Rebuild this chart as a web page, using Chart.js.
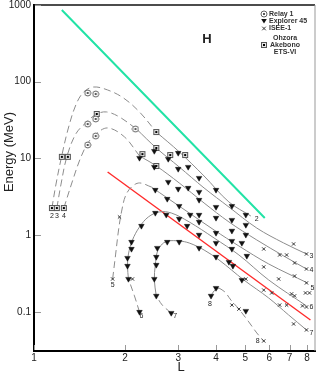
<!DOCTYPE html>
<html>
<head>
<meta charset="utf-8">
<script src="https://cdn.jsdelivr.net/npm/chart.js@4.4.1/dist/chart.umd.min.js"></script>
<style>
html, body { margin: 0; padding: 0; background: #fff; }
#wrap { width: 320px; height: 375px; }
</style>
</head>
<body>
<div id="wrap"><canvas id="chart" width="320" height="375"></canvas></div>
<script>
// ---- data (L, energy in MeV) ----
const xTicks = [1, 2, 3, 4, 5, 6, 7, 8];
const yTicks = [0.1, 1, 10, 100, 1000];

const c2DashL = [1.146, 1.181, 1.227, 1.294, 1.375, 1.460, 1.575, 1.752, 1.977, 2.233, 2.538];
const c2DashE = [2.26, 4.52, 9.56, 23.5, 49.8, 73.5, 85.4, 78.1, 61.4, 40.4, 22.1];
const c2L = [2.538, 3.022, 3.652, 4.413, 5.214];
const c2E = [22.1, 12.2, 5.91, 2.71, 1.78];

const c3DashL = [1.190, 1.227, 1.284, 1.375, 1.494, 1.612, 1.739, 1.918, 2.183];
const c3DashE = [2.26, 4.52, 10.5, 20.9, 29.9, 38.0, 40.4, 34.7, 24.2];
const c3L = [2.183, 2.538, 3.022, 3.652, 4.413, 5.456, 6.695, 7.967];
const c3E = [24.2, 13.7, 7.75, 4.13, 2.33, 1.24, 0.792, 0.570];

const c4DashL = [1.255, 1.344, 1.417, 1.494, 1.587, 1.752, 1.992, 2.233];
const c4DashE = [2.26, 5.25, 9.56, 15.0, 20.2, 25.0, 19.1, 10.8];
const c4L = [2.233, 2.538, 3.022, 3.652, 4.413, 5.456, 6.695, 7.967];
const c4E = [10.8, 7.99, 4.80, 2.63, 1.49, 0.867, 0.537, 0.363];

const c5DashL = [1.820, 1.861, 1.904, 1.947, 2.007, 2.101, 2.233, 2.444];
const c5DashE = [0.269, 0.553, 1.17, 2.01, 3.25, 4.25, 4.80, 4.25];
const c5L = [2.444, 2.759, 3.261, 3.940, 4.761, 5.975, 8.027];
const c5E = [4.25, 3.06, 1.95, 1.17, 0.724, 0.422, 0.239];

const c6DashL = [2.233, 2.149, 2.053];
const c6DashE = [0.1, 0.162, 0.269];
const c6L = [2.053, 2.038, 2.053, 2.117, 2.233, 2.389, 2.597, 2.844, 3.261, 3.940, 4.761, 5.975, 7.967];
const c6E = [0.269, 0.398, 0.570, 0.867, 1.28, 1.73, 2.01, 1.95, 1.49, 0.921, 0.553, 0.261, 0.120];

const c7DashL = [2.844, 2.656, 2.538];
const c7DashE = [0.097, 0.123, 0.162];
const c7L = [2.538, 2.500, 2.519, 2.557, 2.656, 2.780, 3.022, 3.261, 3.652, 4.092, 4.945, 5.975, 6.953, 7.967];
const c7E = [0.162, 0.261, 0.410, 0.605, 0.769, 0.841, 0.841, 0.792, 0.642, 0.476, 0.261, 0.152, 0.0914, 0.0583];

const c8L = [3.851, 3.940, 4.092];
const c8E = [0.162, 0.188, 0.205];
const c8DashL = [4.092, 4.282, 4.480, 4.761, 5.135, 5.456, 5.753];
const c8DashE = [0.205, 0.182, 0.143, 0.109, 0.0741, 0.0533, 0.0419];

const greenL = [1.236, 5.798];
const greenE = [861, 1.68];
const redL = [1.752, 8.21];
const redE = [6.67, 0.0787];

const relayL = [1.505, 1.599, 1.505, 1.599, 1.505, 1.599, 2.166];
const relayE = [71.4, 69.2, 28.1, 32.7, 15.0, 19.6, 24.2];

const akebonoL = [1.146, 1.190, 1.255, 1.236, 1.294, 1.612, 2.538, 2.283, 2.538, 2.822, 3.162, 2.538];
const akebonoE = [2.26, 2.26, 2.26, 10.5, 10.5, 38.0, 22.1, 11.4, 13.7, 11.1, 11.1, 7.99];

const explorerL = [2.233, 2.500, 2.780, 2.999, 2.500, 2.999, 2.780, 3.236, 3.516, 2.999, 3.236, 3.516, 4.000,
    2.519, 2.759, 3.022, 3.285, 3.516, 4.000, 3.516, 2.519, 2.738, 3.022, 3.210, 2.266,
    4.514, 5.020, 4.514, 5.020, 4.514, 5.020, 4.514, 4.870, 4.514, 5.058, 4.413, 4.549, 4.870,
    4.000, 4.000, 4.000, 4.000, 3.516, 3.516, 3.516, 2.759, 3.022,
    2.101, 2.101, 2.038, 2.038, 2.053, 2.557, 2.538, 2.538, 2.500, 2.538, 2.844, 3.851, 4.000, 5.020, 2.233];
const explorerE = [10.15, 12.5, 9.85, 11.8, 7.75, 7.30, 4.94, 7.75, 5.57, 4.01, 4.13, 3.66, 3.89,
    3.89, 2.97, 2.40, 1.84, 2.88, 2.33, 1.84, 1.95, 1.84, 1.63, 1.32, 1.32,
    2.40, 1.84, 1.58, 1.36, 1.14, 1.01, 0.841, 0.792, 0.662, 0.537, 0.448, 0.398, 0.261,
    1.68, 1.07, 0.792, 0.521, 1.49, 1.01, 0.682, 0.817, 0.817,
    0.817, 0.662, 0.505, 0.398, 0.269, 0.682, 0.521, 0.410, 0.269, 0.162, 0.097, 0.162, 0.205, 0.103, 0.1];

const iseeL = [7.222, 6.494, 6.848, 7.967, 5.753, 7.276, 7.967, 5.753, 6.446, 7.276, 7.967, 7.907, 8.150,
    7.112, 7.276, 5.753, 6.112, 6.494, 6.848, 7.729, 7.967, 7.222, 7.967, 4.514, 4.761, 5.753,
    5.020, 2.117, 1.820, 1.918];
const iseeE = [0.769, 0.553, 0.553, 0.570, 0.662, 0.435, 0.363, 0.386, 0.269, 0.294, 0.239, 0.177, 0.177,
    0.172, 0.162, 0.193, 0.177, 0.123, 0.123, 0.120, 0.116, 0.0698, 0.0583, 0.123, 0.109, 0.0419,
    0.269, 0.269, 0.269, 1.73];

const curveLabelText = ['2', '3', '4', '5', '6', '7', '8', '2', '3', '4', '5', '6', '7', '8'];
const curveLabelL = [5.456, 8.27, 8.27, 8.34, 8.27, 8.27, 5.497, 1.146, 1.190, 1.255, 1.820, 2.266, 2.931, 3.822];
const curveLabelE = [1.63, 0.537, 0.352, 0.205, 0.116, 0.0533, 0.0419, 1.78, 1.78, 1.78, 0.225, 0.0874, 0.0887, 0.126];

// ---- helpers ----
const FONT = '"Liberation Sans", Arial, sans-serif';

function pts(ls, es) {
    return ls.map((l, i) => ({ x: l, y: es[i] }));
}

function curve(ls, es, dashed, color, width) {
    return {
        data: pts(ls, es),
        showLine: true,
        borderColor: color || '#8c8c8c',
        borderWidth: width || 1,
        borderDash: dashed ? [7, 4] : [],
        pointRadius: 0,
        tension: 0.35,
        order: 2
    };
}

// small canvases used as point styles
function circleDot() {
    const c = document.createElement('canvas');
    c.width = 8; c.height = 8;
    const g = c.getContext('2d');
    g.fillStyle = '#fff'; g.strokeStyle = '#666'; g.lineWidth = 1;
    g.beginPath(); g.arc(4, 4, 3, 0, Math.PI * 2); g.fill(); g.stroke();
    g.fillStyle = '#222';
    g.beginPath(); g.arc(4, 4, 1, 0, Math.PI * 2); g.fill();
    return c;
}

function squareDot() {
    const c = document.createElement('canvas');
    c.width = 8; c.height = 8;
    const g = c.getContext('2d');
    g.fillStyle = '#e6e6e6'; g.strokeStyle = '#555'; g.lineWidth = 1;
    g.fillRect(1, 1, 6, 6); g.strokeRect(1.5, 1.5, 5, 5);
    g.fillStyle = '#000';
    g.fillRect(3, 3, 2, 2);
    return c;
}

const relayImg = circleDot();
const akebonoImg = squareDot();

function drawTri(ctx, x, y, r) {
    ctx.beginPath();
    ctx.moveTo(x - r, y - r * 0.7);
    ctx.lineTo(x + r, y - r * 0.7);
    ctx.lineTo(x, y + r * 0.9);
    ctx.closePath();
    ctx.fill();
}

function drawX(ctx, x, y, r) {
    ctx.beginPath();
    ctx.moveTo(x - r, y - r); ctx.lineTo(x + r, y + r);
    ctx.moveTo(x + r, y - r); ctx.lineTo(x - r, y + r);
    ctx.stroke();
}

// frame, inward ticks, titles, legend and curve numbers
const decor = {
    id: 'decor',
    afterDraw(chart) {
        const { ctx, chartArea: a, scales: { x, y } } = chart;
        ctx.save();

        ctx.strokeStyle = '#111'; ctx.lineWidth = 1.5;
        ctx.beginPath(); ctx.moveTo(a.left, a.top); ctx.lineTo(a.right, a.top); ctx.stroke();
        ctx.strokeStyle = '#999'; ctx.lineWidth = 1;
        ctx.beginPath(); ctx.moveTo(a.right, a.top); ctx.lineTo(a.right, a.bottom); ctx.stroke();

        ctx.strokeStyle = '#999'; ctx.lineWidth = 1;
        xTicks.forEach(v => {
            const px = Math.round(x.getPixelForValue(v)) + 0.5;
            ctx.beginPath(); ctx.moveTo(px, a.bottom - 1); ctx.lineTo(px, a.bottom - 6); ctx.stroke();
        });
        yTicks.forEach(v => {
            const py = Math.round(y.getPixelForValue(v)) + 0.5;
            ctx.beginPath(); ctx.moveTo(a.left + 1, py); ctx.lineTo(a.left + 7, py); ctx.stroke();
        });

        ctx.fillStyle = '#222';
        ctx.textAlign = 'center'; ctx.textBaseline = 'middle';
        ctx.font = '13px ' + FONT;
        ctx.fillText('L', 181, 367);
        ctx.save();
        ctx.translate(9, 152);
        ctx.rotate(-Math.PI / 2);
        ctx.fillText('Energy (MeV)', 0, 0);
        ctx.restore();

        ctx.font = 'bold 13px ' + FONT;
        ctx.fillText('H', 207, 39);

        // legend
        ctx.font = 'bold 7px ' + FONT;
        ctx.fillStyle = '#333';
        ctx.textAlign = 'left';
        ctx.drawImage(relayImg, 260, 10);
        ctx.fillText('Relay 1', 269, 14);
        ctx.fillStyle = '#111';
        drawTri(ctx, 264, 21, 2.8);
        ctx.fillStyle = '#333';
        ctx.fillText('Explorer 45', 269, 21.5);
        ctx.strokeStyle = '#333';
        drawX(ctx, 264, 28.5, 1.8);
        ctx.fillText('ISEE-1', 269, 28.5);
        ctx.drawImage(akebonoImg, 260, 41);
        ctx.fillText('Akebono', 270, 45);
        ctx.textAlign = 'center';
        ctx.fillText('Ohzora', 285, 38);
        ctx.fillText('ETS-VI', 285, 52);

        // curve numbers
        ctx.font = '7px ' + FONT;
        ctx.fillStyle = '#222';
        curveLabelText.forEach((t, i) => {
            ctx.fillText(t, x.getPixelForValue(curveLabelL[i]), y.getPixelForValue(curveLabelE[i]));
        });

        ctx.restore();
    }
};

new Chart(document.getElementById('chart'), {
    type: 'scatter',
    data: {
        datasets: [
            { data: pts(explorerL, explorerE), pointStyle: 'triangle', rotation: 180, pointRadius: 3.2, backgroundColor: '#111', borderColor: '#111', borderWidth: 0.5, order: 0 },
            { data: pts(iseeL, iseeE), pointStyle: 'crossRot', pointRadius: 2.3, borderColor: '#333', borderWidth: 1, order: 0 },
            { data: pts(relayL, relayE), pointStyle: relayImg, order: 0 },
            { data: pts(akebonoL, akebonoE), pointStyle: akebonoImg, order: 0 },
            curve(c2DashL, c2DashE, true), curve(c2L, c2E, false),
            curve(c3DashL, c3DashE, true), curve(c3L, c3E, false),
            curve(c4DashL, c4DashE, true), curve(c4L, c4E, false),
            curve(c5DashL, c5DashE, true), curve(c5L, c5E, false),
            curve(c6DashL, c6DashE, true), curve(c6L, c6E, false),
            curve(c7DashL, c7DashE, true), curve(c7L, c7E, false),
            curve(c8L, c8E, false), curve(c8DashL, c8DashE, true),
            curve(greenL, greenE, false, '#22e3a6', 2),
            curve(redL, redE, false, '#ff2a2a', 1.4)
        ]
    },
    options: {
        responsive: false,
        animation: false,
        devicePixelRatio: 1,
        layout: { padding: { top: 5, right: 4, left: 0, bottom: 0 } },
        plugins: { legend: { display: false }, tooltip: { enabled: false } },
        scales: {
            x: {
                type: 'logarithmic', min: 1, max: 8.5,
                afterBuildTicks: s => { s.ticks = xTicks.map(v => ({ value: v })); },
                afterFit: s => { s.height = 24; s.paddingLeft = 0; s.paddingRight = 0; },
                grid: { display: false, drawTicks: false },
                border: { display: true, color: '#000', width: 2 },
                ticks: { font: { family: FONT, size: 10, lineHeight: 1 }, color: '#222', padding: 2, maxRotation: 0, autoSkip: false, callback: v => String(v) }
            },
            y: {
                type: 'logarithmic', min: 0.031, max: 1000,
                afterBuildTicks: s => { s.ticks = yTicks.map(v => ({ value: v })); },
                afterFit: s => { s.width = 34; s.paddingTop = 0; s.paddingBottom = 0; },
                grid: { display: false, drawTicks: false },
                border: { display: true, color: '#000', width: 2 },
                ticks: { font: { family: FONT, size: 10, lineHeight: 1 }, color: '#222', padding: 3, autoSkip: false, callback: v => String(v) }
            }
        }
    },
    plugins: [decor]
});
</script>
</body>
</html>
